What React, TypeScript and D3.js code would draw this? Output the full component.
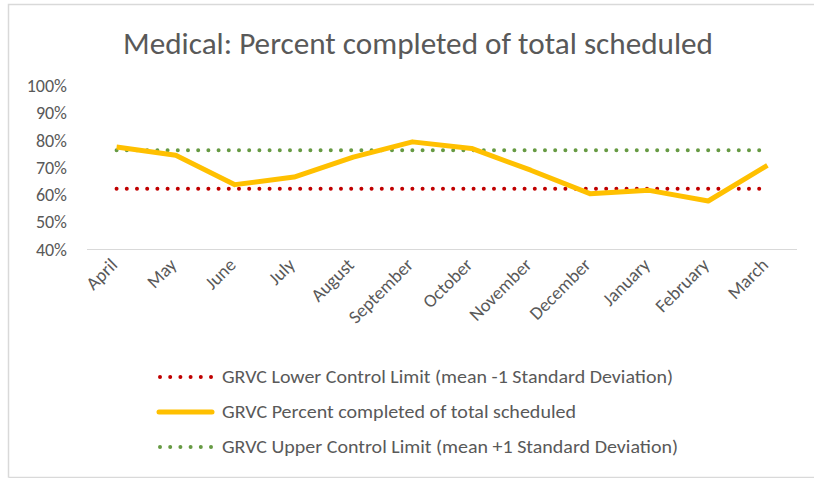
import React, { useRef, useEffect } from 'react';
import * as d3 from 'd3';

const months = ['April', 'May', 'June', 'July', 'August', 'September', 'October', 'November', 'December', 'January', 'February', 'March'];
const percentCompleted = [0.776, 0.746, 0.638, 0.666, 0.739, 0.795, 0.771, 0.691, 0.605, 0.617, 0.578, 0.709];
const lowerLimit = [0.623, 0.623, 0.623, 0.623, 0.623, 0.623, 0.623, 0.623, 0.623, 0.623, 0.623, 0.623];
const upperLimit = [0.764, 0.764, 0.764, 0.764, 0.764, 0.764, 0.764, 0.764, 0.764, 0.764, 0.764, 0.764];
const yTicks = [0.4, 0.5, 0.6, 0.7, 0.8, 0.9, 1.0];

const legendItems = [
  { label: 'GRVC Lower Control Limit (mean -1 Standard Deviation)', color: '#c00000', dotted: true, len: 451 },
  { label: 'GRVC Percent completed of total scheduled', color: '#ffc000', dotted: false, len: 354 },
  { label: 'GRVC Upper Control Limit (mean +1 Standard Deviation)', color: '#669a43', dotted: true, len: 456 },
];

const App = () => {
  const svgRef = useRef<SVGSVGElement>(null);

  useEffect(() => {
    const svg = d3.select(svgRef.current);
    svg.selectAll('*').remove();

    const font = 'Carlito, Calibri, "Open Sans", sans-serif';
    const textColor = '#595959';

    // chart border
    svg.append('path')
      .attr('d', 'M8.5,477.5 L8.5,4.5 L814,4.5 M8.5,477.5 L814,477.5')
      .attr('fill', 'none')
      .attr('stroke', '#d9d9d9')
      .attr('stroke-width', 1.5);

    svg.append('text')
      .attr('x', 418)
      .attr('y', 54)
      .attr('text-anchor', 'middle')
      .attr('font-family', font)
      .attr('font-size', 31)
      .attr('fill', textColor)
      .attr('textLength', 590)
      .attr('lengthAdjust', 'spacingAndGlyphs')
      .text('Medical: Percent completed of total scheduled');

    const x = d3.scaleBand().domain(months).range([87, 797]);
    const y = d3.scaleLinear().domain([0.4, 1.0]).range([249.5, 86]);
    const cx = (m: string) => (x(m) ?? 0) + x.bandwidth() / 2;

    // y labels
    svg.append('g')
      .selectAll('text')
      .data(yTicks)
      .enter().append('text')
      .attr('x', 67)
      .attr('y', d => y(d) + 6)
      .attr('text-anchor', 'end')
      .attr('font-family', font)
      .attr('font-size', 18)
      .attr('fill', textColor)
      .text(d => d3.format('.0%')(d));

    // x axis line
    svg.append('line')
      .attr('x1', 87).attr('x2', 797)
      .attr('y1', 249.5).attr('y2', 249.5)
      .attr('stroke', '#d9d9d9')
      .attr('stroke-width', 1);

    svg.append('g')
      .selectAll('text')
      .data(months)
      .enter().append('text')
      .attr('transform', d => `translate(${cx(d) + 2},${266}) rotate(-45)`)
      .attr('text-anchor', 'end')
      .attr('font-family', font)
      .attr('font-size', 18.5)
      .attr('fill', textColor)
      .text(d => d);

    const line = d3.line<number>()
      .x((d, i) => cx(months[i]))
      .y(d => y(d));

    svg.append('path')
      .datum(lowerLimit)
      .attr('d', line)
      .attr('fill', 'none')
      .attr('stroke', '#c00000')
      .attr('stroke-width', 4)
      .attr('stroke-linecap', 'round')
      .attr('stroke-dasharray', '0 10.2');

    svg.append('path')
      .datum(upperLimit)
      .attr('d', line)
      .attr('fill', 'none')
      .attr('stroke', '#669a43')
      .attr('stroke-width', 4)
      .attr('stroke-linecap', 'round')
      .attr('stroke-dasharray', '0 10.2');

    svg.append('path')
      .datum(percentCompleted)
      .attr('d', line)
      .attr('fill', 'none')
      .attr('stroke', '#ffc000')
      .attr('stroke-width', 5)
      .attr('stroke-linejoin', 'round');

    // legend
    const lg = svg.append('g');
    legendItems.forEach((item, i) => {
      const ly = 377 + i * 35;
      lg.append('line')
        .attr('x1', item.dotted ? 160 : 159)
        .attr('x2', item.dotted ? 211 : 212)
        .attr('y1', ly).attr('y2', ly)
        .attr('stroke', item.color)
        .attr('stroke-width', item.dotted ? 4 : 5)
        .attr('stroke-linecap', 'round')
        .attr('stroke-dasharray', item.dotted ? '0 10.2' : null);
      lg.append('text')
        .attr('x', 222)
        .attr('y', ly + 6)
        .attr('font-family', font)
        .attr('font-size', 18)
        .attr('fill', textColor)
        .attr('textLength', item.len)
        .attr('lengthAdjust', 'spacingAndGlyphs')
        .text(item.label);
    });
  }, []);

  return (
    <svg ref={svgRef} width={814} height={478} style={{ position: 'absolute', left: 0, top: 0 }} />
  );
};

export default App;
